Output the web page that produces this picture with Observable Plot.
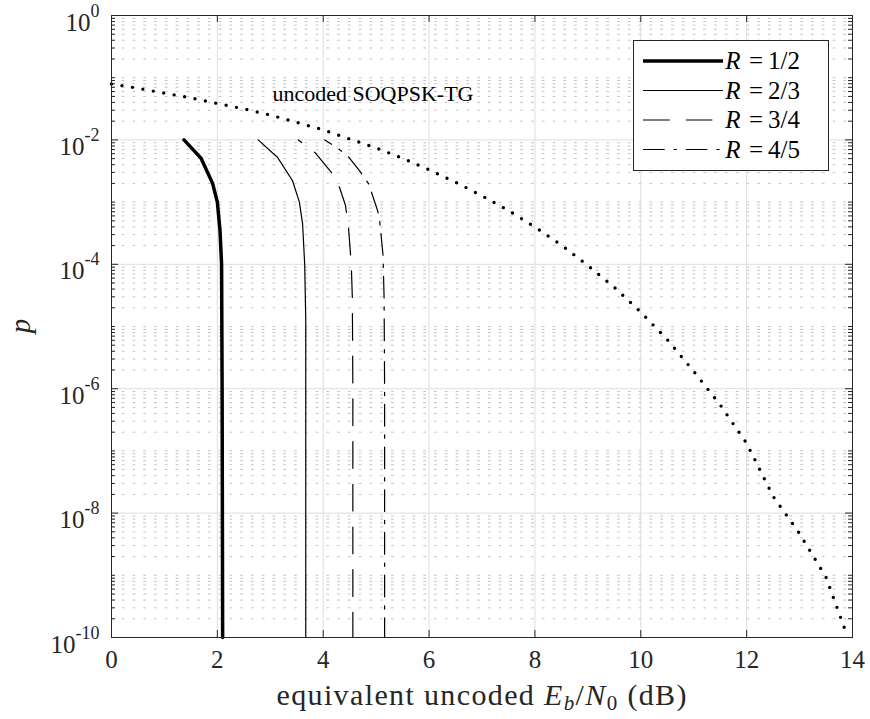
<!DOCTYPE html>
<html><head><meta charset="utf-8">
<script src="https://cdn.jsdelivr.net/npm/d3@7"></script>
<script src="https://cdn.jsdelivr.net/npm/@observablehq/plot@0.6"></script>
<style>body{margin:0;background:#fff} svg text{font-family:"Liberation Serif",serif !important}</style>
</head><body><div id="chart"></div>
<script>
// ---- data ----
const xTicks = [0, 2, 4, 6, 8, 10, 12, 14];
const yTicks = [1e-10, 1e-8, 1e-6, 1e-4, 1e-2, 1];
const yTickLabels = ["10^-10", "10^-8", "10^-6", "10^-4", "10^-2", "10^0"];

const uncodedEbN0 = [0, 0.5, 1, 1.5, 2, 2.5, 3, 3.5, 4, 4.5, 5, 5.5, 6, 6.5, 7, 7.5, 8, 8.5, 9, 9.5, 10, 10.5, 11, 11.5, 12, 12.5, 13, 13.5, 13.9];
const uncodedP = [0.0794, 0.0676, 0.0565, 0.0473, 0.0385, 0.0316, 0.0251, 0.0191, 0.0145, 0.01035, 0.00741, 0.00507, 0.00331, 0.00209, 0.00126, 7.33e-4, 3.98e-4, 2.04e-4, 9.55e-5, 4.27e-5, 1.70e-5, 6.17e-6, 1.9e-6, 5.5e-7, 1.32e-7, 1.86e-8, 4.68e-9, 9.3e-10, 1.07e-10];

const r12EbN0 = [1.37, 1.69, 1.91, 2.00, 2.05, 2.08, 2.09, 2.10];
const r12P = [1e-2, 5.1e-3, 2.0e-3, 1e-3, 3.5e-4, 1e-4, 1e-6, 1e-10];
const r23EbN0 = [2.77, 3.14, 3.42, 3.55, 3.61, 3.65, 3.67, 3.67];
const r23P = [1e-2, 5.2e-3, 2.2e-3, 1e-3, 4.5e-4, 1e-4, 1.3e-5, 1e-10];
const r34EbN0 = [3.53, 3.85, 4.16, 4.31, 4.42, 4.48, 4.53, 4.55, 4.56, 4.56];
const r34P = [1e-2, 6.2e-3, 2.95e-3, 1.7e-3, 8.9e-4, 3.7e-4, 1e-4, 2.95e-5, 1e-6, 1e-10];
const r45EbN0 = [4.03, 4.30, 4.49, 4.71, 4.86, 5.03, 5.07, 5.13, 5.15, 5.16, 5.16];
const r45P = [1e-2, 7.1e-3, 5.2e-3, 3.0e-3, 1.95e-3, 7.2e-4, 4.7e-4, 1.4e-4, 2.95e-5, 1e-6, 1e-10];

const seriesNames = ["R = 1/2", "R = 2/3", "R = 3/4", "R = 4/5"];
const annotation = "uncoded SOQPSK-TG";

// ---- build tables ----
const zip = (xs, ps) => xs.map((x, i) => ({x, p: ps[i]}));
const uncoded = zip(uncodedEbN0, uncodedP);
const series = [zip(r12EbN0, r12P), zip(r23EbN0, r23P), zip(r34EbN0, r34P), zip(r45EbN0, r45P)];
const styles = [
  {strokeWidth: 3.5, dash: null, offset: 0},
  {strokeWidth: 1.2, dash: null, offset: 0},
  {strokeWidth: 1.2, dash: "26.7,16", offset: 22.4},
  {strokeWidth: 1.2, dash: "21.7,8.9,3.3,8.8", offset: 13.7}
];

const yMinor = [];
for (let e = -10; e < 0; e++) for (let k = 1; k <= 9; k++) {
  const v = k * Math.pow(10, e);
  if (k === 1 && e % 2 === 0) continue;
  yMinor.push(v);
}

const W = 870, H = 719, mL = 111, mR = 18, mT = 15, mB = 82;
const plotW = W - mL - mR, plotH = H - mT - mB;
const ink = "#262626";
const FONT = "Liberation Serif";

const chart = Plot.plot({
  width: W, height: H,
  marginLeft: mL, marginRight: mR, marginTop: mT, marginBottom: mB,
  x: {domain: [0, 14], label: null},
  y: {type: "log", domain: [1e-10, 1], label: null},
  style: {fontFamily: FONT, fontSize: "25px", color: ink, background: "#fff"},
  marks: [
    Plot.ruleY(yMinor, {stroke: "#c2c2c2", strokeWidth: 1, strokeDasharray: "2.7,8.07"}),
    Plot.ruleX(xTicks.slice(1, -1), {stroke: "#dedede", strokeWidth: 1}),
    Plot.ruleY(yTicks.slice(1, -1), {stroke: "#dedede", strokeWidth: 1}),
    Plot.line(uncoded, {x: "x", y: "p", stroke: "#000", strokeWidth: 3.4, strokeDasharray: "0,10.6", strokeLinecap: "round"}),
    ...series.map((s, i) => Plot.line(s, {x: "x", y: "p", stroke: "#000", strokeWidth: styles[i].strokeWidth,
      strokeDasharray: styles[i].dash || undefined, strokeDashoffset: styles[i].offset})),
    Plot.text([annotation], {x: 3.04, y: 0.055, text: d => d, textAnchor: "start", fontSize: 22, fill: "#000"}),
    // inside ticks
    Plot.ruleX(xTicks, {insetTop: plotH - 7, stroke: ink}),
    Plot.ruleX(xTicks, {insetBottom: plotH - 7, stroke: ink}),
    Plot.ruleY(yTicks, {insetRight: plotW - 7, stroke: ink}),
    Plot.ruleY(yTicks, {insetLeft: plotW - 7, stroke: ink}),
    Plot.ruleY(yMinor, {insetRight: plotW - 4, stroke: ink}),
    Plot.ruleY(yMinor, {insetLeft: plotW - 4, stroke: ink}),
    Plot.frame({stroke: ink, strokeWidth: 1}),
    Plot.axisX(xTicks, {tickSize: 0, tickPadding: 13, tickFormat: d => String(d), label: null, fill: ink}),
    Plot.axisY(yTicks, {tickSize: 0, tickPadding: 12, tickFormat: d => yTickLabels[yTicks.indexOf(d)], label: null, fill: ink})
  ]
});
document.getElementById("chart").appendChild(chart);

const svg = d3.select(chart);
// superscript y tick labels
svg.selectAll('g[aria-label="y-axis tick label"] text').each(function () {
  const t = this.textContent;
  const [base, exp] = t.split("^");
  const sel = d3.select(this);
  sel.text(null);
  sel.append("tspan").attr("dy", 7).text(base);
  sel.append("tspan").attr("dy", -14).attr("font-size", 18).text(exp);
});

// x label
const xl = svg.append("text").attr("x", mL + plotW / 2).attr("y", 705)
  .attr("text-anchor", "middle").attr("font-size", 30).attr("fill", ink)
  .attr("textLength", 410).attr("lengthAdjust", "spacing");
xl.append("tspan").text("equivalent uncoded ");
xl.append("tspan").attr("font-style", "italic").text("E");
xl.append("tspan").attr("font-style", "italic").attr("font-size", 21).attr("dy", 5).text("b");
xl.append("tspan").attr("dy", -5).text("/");
xl.append("tspan").attr("font-style", "italic").text("N");
xl.append("tspan").attr("font-size", 21).attr("dy", 5).text("0");
xl.append("tspan").attr("dy", -5).text(" (dB)");

// y label
svg.append("text").attr("transform", "translate(30,326) rotate(-90)")
  .attr("text-anchor", "middle").attr("font-size", 29).attr("font-style", "italic").attr("fill", ink).text("p");

// legend
const lg = svg.append("g");
lg.append("rect").attr("x", 633.5).attr("y", 40.5).attr("width", 195).attr("height", 130)
  .attr("fill", "#fff").attr("stroke", ink).attr("stroke-width", 1);
const rowY = [61, 90.5, 120, 149.5];
const legDash = [null, null, "26.7,16", "21.7,8.9,3.3,8.8"];
seriesNames.forEach((name, i) => {
  lg.append("line").attr("x1", 643).attr("x2", 723).attr("y1", rowY[i]).attr("y2", rowY[i])
    .attr("stroke", "#000").attr("stroke-width", styles[i].strokeWidth)
    .attr("stroke-dasharray", legDash[i]);
  const [r, rest] = name.split(" = ");
  lg.append("text").attr("x", 733).attr("y", rowY[i] + 8).attr("font-size", 25)
    .attr("font-style", "italic").attr("fill", "#000").text(r);
  lg.append("text").attr("x", 756).attr("y", rowY[i] + 8).attr("font-size", 25)
    .attr("fill", "#000").text("=");
  lg.append("text").attr("x", 784).attr("y", rowY[i] + 8).attr("font-size", 25)
    .attr("fill", "#000").text(rest);
});
svg.selectAll("text").attr("font-family", FONT);
</script>
</body></html>
